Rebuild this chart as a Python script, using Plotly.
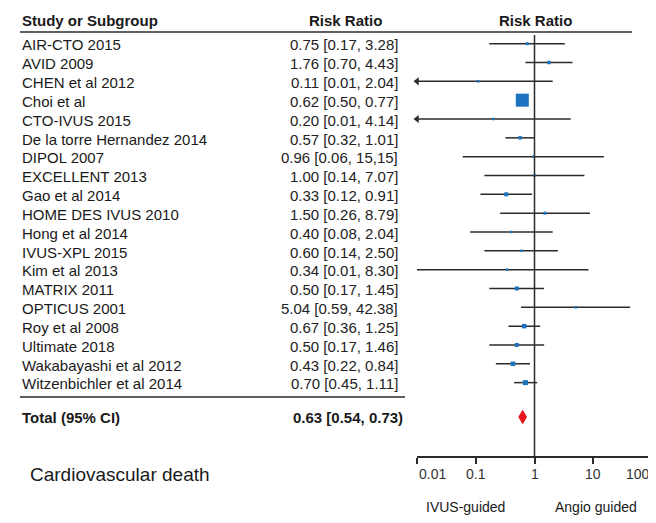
import plotly.graph_objects as go
import math

studies = ["AIR-CTO 2015", "AVID 2009", "CHEN et al 2012", "Choi et al", "CTO-IVUS 2015",
           "De la torre Hernandez 2014", "DIPOL 2007", "EXCELLENT 2013", "Gao et al 2014",
           "HOME DES IVUS 2010", "Hong et al 2014", "IVUS-XPL 2015", "Kim et al 2013",
           "MATRIX 2011", "OPTICUS 2001", "Roy et al 2008", "Ultimate 2018",
           "Wakabayashi et al 2012", "Witzenbichler et al 2014"]
rr = [0.75, 1.76, 0.11, 0.62, 0.20, 0.57, 0.96, 1.00, 0.33, 1.50, 0.40, 0.60, 0.34, 0.50, 5.04, 0.67, 0.50, 0.43, 0.70]
lo = [0.17, 0.70, 0.01, 0.50, 0.01, 0.32, 0.06, 0.14, 0.12, 0.26, 0.08, 0.14, 0.01, 0.17, 0.59, 0.36, 0.17, 0.22, 0.45]
hi = [3.28, 4.43, 2.04, 0.77, 4.14, 1.01, 15.15, 7.07, 0.91, 8.79, 2.04, 2.50, 8.30, 1.45, 42.38, 1.25, 1.46, 0.84, 1.11]
ci_labels = ["0.75 [0.17, 3.28]", "1.76 [0.70, 4.43]", "0.11 [0.01, 2.04]", "0.62 [0.50, 0.77]",
             "0.20 [0.01, 4.14]", "0.57 [0.32, 1.01]", "0.96 [0.06, 15,15]", "1.00 [0.14, 7.07]",
             "0.33 [0.12, 0.91]", "1.50 [0.26, 8.79]", "0.40 [0.08, 2.04]", "0.60 [0.14, 2.50]",
             "0.34 [0.01, 8.30]", "0.50 [0.17, 1.45]", "5.04 [0.59, 42.38]", "0.67 [0.36, 1.25]",
             "0.50 [0.17, 1.46]", "0.43 [0.22, 0.84]", "0.70 [0.45, 1.11]"]
weights = [3.2, 4.3, 2.2, 60, 2.2, 4.3, 1.4, 1.4, 5.7, 3.2, 2.2, 2.2, 1.4, 5.7, 2.2, 7.2, 5.7, 7.2, 8.9]
truncated = [False, False, True, False, True, False, False, False, False, False, False, False,
             False, False, False, False, False, False, False]
total_rr, total_lo, total_hi = 0.63, 0.54, 0.73
total_label = "0.63 [0.54, 0.73)"
tick_vals = [0.01, 0.1, 1, 10, 100]
tick_text = ["0.01", "0.1", "1", "10", "100"]

W, H = 656, 523
OFF = 8  # page body margin offset
ROW0, STEP = 45.0, 18.83
TOP, BOT = 35, 456

def px(x):
    return (x - OFF) / W

def py(y):
    return 1 - (y - OFF) / H

def prow(p):
    return (p - ROW0) / STEP

rows = list(range(len(studies)))
total_row = prow(417)
FONT = "Liberation Sans, Arial, sans-serif"
LINE = "#2b2b2b"

fig = go.Figure()

# CI lines
lx, ly = [], []
for i in rows:
    lx += [lo[i], hi[i], None]
    ly += [i - 0.07, i - 0.07, None]
fig.add_trace(go.Scatter(x=lx, y=ly, mode="lines", line=dict(color=LINE, width=1.5),
                         hoverinfo="skip", showlegend=False, cliponaxis=False))
# arrows for truncated intervals
ax_ = [lo[i] for i in rows if truncated[i]]
ay_ = [i - 0.07 for i in rows if truncated[i]]
fig.add_trace(go.Scatter(x=ax_, y=ay_, mode="markers",
                         marker=dict(symbol="triangle-left", size=7, color=LINE, opacity=1),
                         hoverinfo="skip", showlegend=False, cliponaxis=False))
# point estimates
sizes = [max(2.5, 1.68 * math.sqrt(w)) for w in weights]
fig.add_trace(go.Scatter(x=rr, y=[i - 0.07 for i in rows], mode="markers",
                         marker=dict(symbol="square", size=sizes, color="#1c73c0", opacity=1,
                                     line=dict(width=0)),
                         showlegend=False))
# pooled diamond
dh = 0.35
fig.add_trace(go.Scatter(x=[total_lo, total_rr, total_hi, total_rr, total_lo],
                         y=[total_row, total_row - dh, total_row, total_row + dh, total_row],
                         mode="lines", fill="toself", fillcolor="#e8161c",
                         line=dict(color="#e8161c", width=1), showlegend=False))

# vertical line at 1
fig.add_shape(type="line", xref="x", yref="y domain", x0=1, x1=1, y0=0, y1=1,
              line=dict(color=LINE, width=1.5))
# header line
fig.add_shape(type="line", xref="paper", yref="paper", x0=px(20), x1=px(632),
              y0=py(32), y1=py(32), line=dict(color=LINE, width=1.5))
# separator above total
fig.add_shape(type="line", xref="paper", yref="paper", x0=px(20), x1=px(405),
              y0=py(397), y1=py(397), line=dict(color=LINE, width=1.5))

ann = []
def txt(x, y, s, size=15, bold=False, anchor="left", yref="paper", color="#1a1a1a", xref="paper"):
    ann.append(dict(x=x, y=y, xref=xref, yref=yref, text=("<b>%s</b>" % s) if bold else s,
                    showarrow=False, xanchor=anchor, yanchor="middle",
                    font=dict(family=FONT, size=size, color=color)))

txt(px(20), py(20), "Study or Subgroup", bold=True)
txt(px(345), py(20), "Risk Ratio", bold=True, anchor="center")
txt(px(535), py(20), "Risk Ratio", bold=True, anchor="center")
for i in rows:
    txt(px(20), i, studies[i], yref="y")
    txt(px(400), i, ci_labels[i], anchor="right", yref="y", color="#222222")
txt(px(20), total_row, "Total (95% CI)", bold=True, yref="y")
txt(px(405), total_row, total_label, bold=True, anchor="right", yref="y")
txt(px(28), py(474), "Cardiovascular death", size=19)
txt(px(466), py(507), "IVUS-guided", size=14, anchor="center")
txt(px(596), py(507), "Angio guided", size=14, anchor="center")
# axis tick labels (end labels kept inside the axis span, as in the reference)
for k, (v, t) in enumerate(zip(tick_vals, tick_text)):
    anchor = "left" if k == 0 else ("right" if k == len(tick_vals) - 1 else "center")
    txt(math.log10(v), py(474), t, size=14, anchor=anchor, xref="x", color="#333333")

fig.update_layout(
    width=W, height=H, margin=dict(l=0, r=0, t=0, b=0),
    paper_bgcolor="white", plot_bgcolor="white",
    annotations=ann,
    xaxis=dict(type="log", range=[-2, 2], domain=[px(417), px(652)], automargin=False,
               tickvals=tick_vals, showticklabels=False, showgrid=False, zeroline=False,
               showline=True, linecolor=LINE, linewidth=1.5,
               ticks="outside", ticklen=6, tickwidth=1.5, tickcolor=LINE),
    yaxis=dict(range=[prow(BOT), prow(TOP)], domain=[py(BOT), py(TOP)], automargin=False,
               showgrid=False, zeroline=False, showticklabels=False, showline=False),
)

fig.write_html("out.html")
